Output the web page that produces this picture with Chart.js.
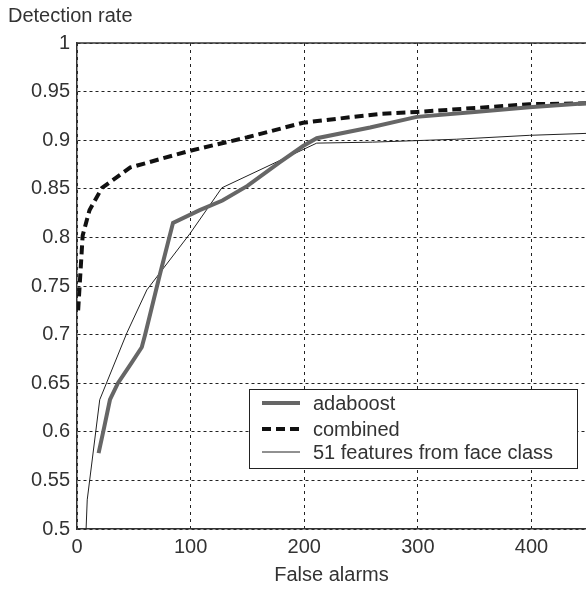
<!DOCTYPE html>
<html>
<head>
<meta charset="utf-8">
<script src="https://cdn.jsdelivr.net/npm/chart.js@4"></script>
<style>
  html, body { margin: 0; padding: 0; background: #fff; }
  #wrap { width: 586px; height: 589px; }
</style>
</head>
<body>
<div id="wrap"><canvas id="line"></canvas></div>
<script>
// data
var adaboostX = [19, 24, 29, 36, 48, 57, 60, 73, 84.5, 108, 128, 150, 178, 199, 211, 258, 299, 350, 398, 448];
var adaboostY = [0.578, 0.605, 0.633, 0.65, 0.671, 0.687, 0.7, 0.762, 0.815, 0.828, 0.838, 0.853, 0.877, 0.894, 0.902, 0.913, 0.924, 0.929, 0.934, 0.938];

var combinedX = [1, 5, 11, 22, 47, 99, 150, 199, 266, 299, 398, 448];
var combinedY = [0.725, 0.802, 0.828, 0.851, 0.872, 0.889, 0.903, 0.918, 0.927, 0.929, 0.937, 0.938];

var faceX = [8, 9, 20, 44, 61.5, 99.5, 127.5, 211, 260, 334, 398, 448];
var faceY = [0.5, 0.53, 0.633, 0.702, 0.746, 0.804, 0.851, 0.897, 0.898, 0.901, 0.905, 0.907];

var seriesLabels = ["adaboost", "combined", "51 features from face class"];
var xTicks = [0, 100, 200, 300, 400];
var yTicks = [0.5, 0.55, 0.6, 0.65, 0.7, 0.75, 0.8, 0.85, 0.9, 0.95, 1];

var FONT = "Arial, 'Liberation Sans', sans-serif";
var TEXT = "#333";

// turn two arrays into {x, y} points
function toPoints(xs, ys) {
  var pts = [];
  for (var i = 0; i < xs.length; i++) {
    pts.push({ x: xs[i], y: ys[i] });
  }
  return pts;
}

// title, top frame line and legend box
var decorPlugin = {
  id: "decor",
  afterDraw: function (chart) {
    var ctx = chart.ctx;
    var area = chart.chartArea;
    ctx.save();

    // top frame line
    ctx.strokeStyle = "#333";
    ctx.lineWidth = 1.5;
    ctx.beginPath();
    ctx.moveTo(area.left, area.top);
    ctx.lineTo(area.right, area.top);
    ctx.stroke();

    // y axis title above the plot
    ctx.fillStyle = TEXT;
    ctx.font = "20px " + FONT;
    ctx.textAlign = "left";
    ctx.textBaseline = "middle";
    ctx.fillText("Detection rate", 8, 16);

    // legend box
    var bx = 249, by = 389, bw = 328, bh = 79;
    ctx.fillStyle = "#fff";
    ctx.fillRect(bx, by, bw, bh);
    ctx.strokeStyle = "#222";
    ctx.lineWidth = 1;
    ctx.strokeRect(bx + 0.5, by + 0.5, bw, bh);

    var rows = [403, 429, 452];
    var sets = chart.data.datasets;
    for (var i = 0; i < sets.length; i++) {
      ctx.strokeStyle = sets[i].borderColor;
      ctx.lineWidth = sets[i].borderWidth;
      ctx.setLineDash(sets[i].borderDash || []);
      ctx.beginPath();
      ctx.moveTo(262, rows[i]);
      ctx.lineTo(300, rows[i]);
      ctx.stroke();
      ctx.setLineDash([]);
      ctx.fillStyle = TEXT;
      ctx.fillText(sets[i].label, 313, rows[i] + 1);
    }
    ctx.restore();
  }
};

var ctx = document.getElementById("line").getContext("2d");

var chart = new Chart(ctx, {
  type: "line",
  data: {
    datasets: [
      {
        label: seriesLabels[0],
        data: toPoints(adaboostX, adaboostY),
        borderColor: "#666",
        borderWidth: 4,
        pointRadius: 0,
        tension: 0,
        fill: false,
      },
      {
        label: seriesLabels[1],
        data: toPoints(combinedX, combinedY),
        borderColor: "#111",
        borderWidth: 4,
        borderDash: [9, 5],
        pointRadius: 0,
        tension: 0,
        fill: false,
      },
      {
        label: seriesLabels[2],
        data: toPoints(faceX, faceY),
        borderColor: "#222",
        borderWidth: 1,
        pointRadius: 0,
        tension: 0,
        fill: false,
      },
    ],
  },
  options: {
    responsive: true,
    maintainAspectRatio: false,
    animation: false,
    layout: { padding: { top: 43, left: 0, right: 0, bottom: 0 } },
    plugins: {
      legend: { display: false },
      tooltip: { enabled: false },
    },
    scales: {
      x: {
        type: "linear",
        min: 0,
        max: 448,
        afterFit: function (scale) { scale.height = 60; },
        afterBuildTicks: function (scale) {
          scale.ticks = xTicks.map(function (v) { return { value: v }; });
        },
        grid: { color: "#222", lineWidth: 1, drawTicks: false },
        border: { color: "#333", width: 1.5, dash: [3, 4] },
        ticks: {
          color: TEXT,
          font: { family: FONT, size: 20 },
          padding: 6,
          maxRotation: 0,
        },
        title: {
          display: true,
          text: "False alarms",
          color: TEXT,
          font: { family: FONT, size: 20 },
          padding: { top: 0, bottom: 2 },
        },
      },
      y: {
        min: 0.5,
        max: 1,
        afterFit: function (scale) { scale.width = 77; },
        afterBuildTicks: function (scale) {
          scale.ticks = yTicks.map(function (v) { return { value: v }; });
        },
        grid: { color: "#222", lineWidth: 1, drawTicks: false },
        border: { color: "#333", width: 1.5, dash: [3, 3] },
        ticks: {
          color: TEXT,
          font: { family: FONT, size: 20 },
          padding: 7,
          callback: function (v) { return String(Number(v.toFixed(2))); },
        },
      },
    },
  },
  plugins: [decorPlugin],
});
</script>
</body>
</html>
